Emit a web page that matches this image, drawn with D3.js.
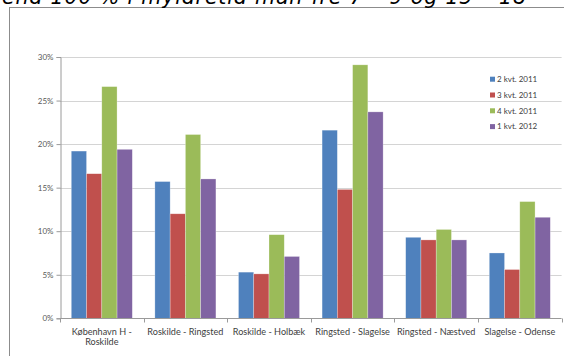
<!DOCTYPE html>
<html>
<head>
<meta charset="utf-8">
<script src="https://cdn.jsdelivr.net/npm/d3@7"></script>
<style>
  html, body { margin: 0; padding: 0; background: #fff; }
  svg { display: block; }
</style>
</head>
<body>
<svg id="chart" width="564" height="356"></svg>
<script>
// Strækninger (x-axis categories)
const categories = [
  ["København H -", "Roskilde"],
  ["Roskilde - Ringsted"],
  ["Roskilde - Holbæk"],
  ["Ringsted - Slagelse"],
  ["Ringsted - Næstved"],
  ["Slagelse - Odense"]
];
// Quarter series
const seriesNames = ["2 kvt. 2011", "3 kvt. 2011", "4 kvt. 2011", "1 kvt. 2012"];
const seriesColors = ["#4F81BD", "#C0504D", "#9BBB59", "#8064A2"];
// Share of departures (%) per stretch, one array per quarter
const q2_2011 = [19.2, 15.7, 5.3, 21.6, 9.3, 7.5];
const q3_2011 = [16.6, 12.0, 5.1, 14.8, 9.0, 5.6];
const q4_2011 = [26.6, 21.1, 9.6, 29.1, 10.2, 13.4];
const q1_2012 = [19.4, 16.0, 7.1, 23.7, 9.0, 11.6];
const seriesValues = [q2_2011, q3_2011, q4_2011, q1_2012];
const yTicks = [0, 5, 10, 15, 20, 25, 30];
const titleText = "end 100 % i myldretid man-fre 7 – 9 og 15 – 18";

const svg = d3.select("#chart");
const font = "Lato, 'Open Sans', sans-serif";

// Chart frame (continues past the visible area)
svg.append("rect")
  .attr("x", 9.5).attr("y", 7.5)
  .attr("width", 600).attr("height", 400)
  .attr("fill", "#fff").attr("stroke", "#8c8c8c").attr("stroke-width", 1);

// Heading line above the chart frame
svg.append("text")
  .attr("x", 2).attr("y", 3.5)
  .attr("font-family", "'DejaVu Sans', sans-serif")
  .attr("font-style", "italic")
  .attr("font-size", 20.5)
  .attr("textLength", 524)
  .attr("lengthAdjust", "spacing")
  .attr("fill", "#000")
  .text(titleText);

const plot = { left: 60, right: 561.6, top: 57, bottom: 318.3 };

const x0 = d3.scaleBand()
  .domain(d3.range(categories.length))
  .range([plot.left, plot.right])
  .paddingInner(0.27).paddingOuter(0.135);
const x1 = d3.scaleBand()
  .domain(d3.range(seriesNames.length))
  .range([0, x0.bandwidth()]);
const y = d3.scaleLinear().domain([0, 30]).range([plot.bottom, plot.top]);

// Gridlines
svg.append("g")
  .selectAll("line").data(yTicks.filter(d => d > 0)).join("line")
  .attr("x1", plot.left).attr("x2", plot.right)
  .attr("y1", d => Math.round(y(d)) + 0.5).attr("y2", d => Math.round(y(d)) + 0.5)
  .attr("stroke", "#d4d4d4").attr("stroke-width", 1);

// Y axis
const yAxis = svg.append("g")
  .attr("transform", `translate(${plot.left + 0.5},0)`)
  .call(d3.axisLeft(y).tickValues(yTicks).tickFormat(d => d + "%").tickSize(4).tickPadding(3));
yAxis.select(".domain").attr("stroke", "#9a9a9a");
yAxis.selectAll(".tick line").attr("stroke", "#9a9a9a");
yAxis.selectAll(".tick text")
  .attr("font-family", font).attr("font-size", 8).attr("fill", "#595959");

// Bars
const groups = svg.append("g").selectAll("g")
  .data(categories.map((c, i) => i)).join("g")
  .attr("transform", i => `translate(${x0(i)},0)`);
groups.selectAll("rect")
  .data(i => seriesValues.map((vals, s) => ({ s, v: vals[i] })))
  .join("rect")
  .attr("x", d => x1(d.s))
  .attr("y", d => y(d.v))
  .attr("width", x1.bandwidth())
  .attr("height", d => y(0) - y(d.v))
  .attr("fill", d => seriesColors[d.s])
  .attr("stroke", "rgba(255,255,255,0.45)")
  .attr("stroke-width", 0.6);

// X axis baseline with boundary ticks
const xb = Math.round(plot.bottom) + 0.5;
svg.append("line")
  .attr("x1", plot.left).attr("x2", plot.right)
  .attr("y1", xb).attr("y2", xb)
  .attr("stroke", "#9a9a9a");
svg.append("g").selectAll("line")
  .data(d3.range(categories.length + 1)).join("line")
  .attr("x1", i => Math.round(plot.left + i * x0.step()) + 0.5)
  .attr("x2", i => Math.round(plot.left + i * x0.step()) + 0.5)
  .attr("y1", xb).attr("y2", xb + 4)
  .attr("stroke", "#9a9a9a");

// Category labels
const labels = svg.append("g").selectAll("text")
  .data(categories).join("text")
  .attr("x", (d, i) => plot.left + (i + 0.5) * x0.step())
  .attr("y", 334.8)
  .attr("text-anchor", "middle")
  .attr("font-family", font).attr("font-size", 9.1).attr("fill", "#404040");
labels.selectAll("tspan")
  .data(d => d).join("tspan")
  .attr("x", function () { return d3.select(this.parentNode).attr("x"); })
  .attr("dy", (d, j) => j === 0 ? 0 : 10)
  .text(d => d);

// Legend
const legend = svg.append("g").selectAll("g")
  .data(seriesNames).join("g")
  .attr("transform", (d, i) => `translate(490,${79.3 + i * 15.8})`);
legend.append("rect")
  .attr("x", 0).attr("y", -2.6).attr("width", 5).attr("height", 5)
  .attr("fill", (d, i) => seriesColors[i]);
legend.append("text")
  .attr("x", 7).attr("y", 0).attr("dy", "0.34em")
  .attr("font-family", font).attr("font-size", 8).attr("fill", "#404040")
  .text(d => d);
</script>
</body>
</html>
